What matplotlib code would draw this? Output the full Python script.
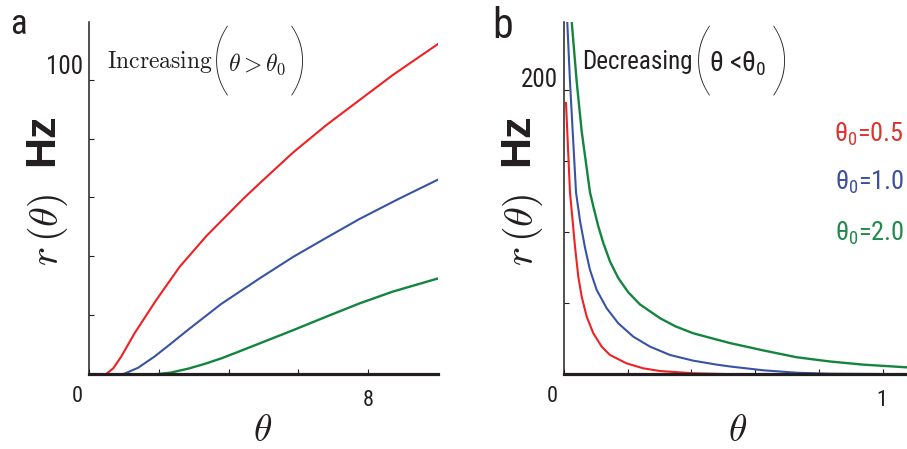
import matplotlib
matplotlib.use('Agg')
import matplotlib.pyplot as plt
import matplotlib.font_manager as fm

W, H = 907, 449

# ---- panel a : increasing tuning, r(theta) for theta > theta0 ----
inc_red_th = [0.5, 0.7, 0.93, 1.31, 1.93, 2.6, 3.36, 4.41, 4.89, 5.85, 6.8, 7.75, 8.7, 10.0]
inc_red_r = [0, 1.9, 5.9, 13.8, 25.1, 36.4, 46.8, 59.4, 64.8, 75.3, 84.6, 93.1, 101.6, 112.2]
inc_blue_th = [1.0, 1.41, 1.88, 2.36, 2.84, 3.79, 4.89, 5.85, 6.8, 7.75, 8.85, 10.0]
inc_blue_r = [0, 2.1, 5.9, 10.4, 15.0, 23.8, 32.5, 39.8, 46.3, 52.7, 59.4, 66.1]
inc_green_th = [2.0, 2.36, 2.84, 3.31, 3.79, 4.27, 4.89, 5.85, 6.8, 7.75, 8.7, 10.0]
inc_green_r = [0, 0.5, 1.8, 3.4, 5.3, 7.5, 10.4, 14.9, 19.5, 24.0, 28.0, 32.5]

# ---- panel b : decreasing tuning, r(theta) for theta < theta0 ----
dec_red_th = [0.0072, 0.0135, 0.0197, 0.0354, 0.0458, 0.0564, 0.0721, 0.0928, 0.119,
              0.145, 0.197, 0.2495, 0.302, 0.407, 0.5]
dec_red_r = [190.9, 159.2, 128, 89.8, 68.6, 54.5, 40.4, 28.7, 19.3, 13.4, 7.5, 4.0, 2.1, 0.5, 0]
dec_blue_th = [0.0111, 0.0197, 0.0282, 0.0386, 0.0511, 0.0668, 0.0824, 0.1034, 0.1348, 0.1712,
               0.2182, 0.2705, 0.3332, 0.406, 0.4796, 0.5213, 0.626, 0.73, 0.835, 0.99]
dec_blue_r = [248.5, 206, 170.9, 128, 108, 89, 73.3, 59.2, 46.3, 35.7,
              26.3, 19.3, 13.4, 9.4, 6.6, 5.3, 2.6, 0.9, 0.2, 0]
dec_green_th = [0.025, 0.0407, 0.0564, 0.0824, 0.0929, 0.1086, 0.1243, 0.1452, 0.1713, 0.2026,
                0.2392, 0.302, 0.35, 0.406, 0.469, 0.521, 0.626, 0.73, 0.835, 0.939, 1.075]
dec_green_r = [248.5, 206, 170.9, 128, 118, 103.9, 92.2, 79.2, 67.5, 57.5,
               49.0, 39.3, 33.6, 28.7, 24.9, 21.8, 16.6, 11.8, 8.8, 6.6, 4.7]

theta0_labels = ['0.5', '1.0', '2.0']
RED, BLUE, GREEN = '#ee2124', '#3953a4', '#14853f'
LEG_COLORS = ['#dc3430', '#3c4fa0', '#1f8a49']
AXC = '#231f20'

# narrow sans if one is installed, otherwise Liberation Sans a bit smaller
names = {f.name for f in fm.fontManager.ttflist}
SANS, SHRINK = 'Liberation Sans', 0.8
for cand in ['Liberation Sans Narrow', 'Roboto Condensed', 'Noto Sans Condensed',
             'Open Sans Condensed']:
    if cand in names:
        SANS, SHRINK = cand, 1.0
        break
plt.rcParams['mathtext.rm'] = SANS
plt.rcParams['mathtext.it'] = SANS + ':italic'

fig = plt.figure(figsize=(W / 100, H / 100), dpi=100)


def ftxt(x, y, s, **kw):
    kw.setdefault('ha', 'center')
    kw.setdefault('va', 'center')
    return fig.text(x / W, 1 - y / H, s, **kw)


def style_axes(ax):
    for side in ('top', 'right'):
        ax.spines[side].set_visible(False)
    ax.spines['left'].set_linewidth(1.1)
    ax.spines['left'].set_color(AXC)
    ax.spines['bottom'].set_linewidth(2.3)
    ax.spines['bottom'].set_color(AXC)
    ax.tick_params(direction='in', length=3.5, width=0.8, color=AXC,
                   labelleft=False, labelbottom=False)


# ──────────────── panel a ────────────────
ax1 = fig.add_axes([88.7 / W, 75 / H, 349.6 / W, 352 / H])
ax1.plot(inc_red_th, inc_red_r, color=RED, lw=1.5)
ax1.plot(inc_blue_th, inc_blue_r, color=BLUE, lw=1.5)
ax1.plot(inc_green_th, inc_green_r, color=GREEN, lw=1.7)
ax1.set_xlim(0, 10)
ax1.set_ylim(0, 119.6)
ax1.set_xticks([0, 2, 4, 6, 8])
ax1.set_yticks([0, 20, 40, 60, 80, 100])
style_axes(ax1)

# ──────────────── panel b ────────────────
ax2 = fig.add_axes([563.7 / W, 75 / H, 343.3 / W, 352 / H])
ax2.plot(dec_red_th, dec_red_r, color=RED, lw=1.5)
ax2.plot(dec_blue_th, dec_blue_r, color=BLUE, lw=1.5)
ax2.plot(dec_green_th, dec_green_r, color=GREEN, lw=1.7)
ax2.set_xlim(0, 1.076)
ax2.set_ylim(0, 248)
ax2.set_xticks([0, 0.2, 0.4, 0.6, 0.8, 1.0])
ax2.set_yticks([0, 50, 100, 150, 200])
style_axes(ax2)

# tick labels
for x, y, s in [(77, 397, '0'), (368, 401, '8'), (552, 396, '0'), (882, 400, '1')]:
    ftxt(x, y, s, fontsize=16 * SHRINK, family=SANS, color=AXC)
ftxt(65, 67, '100', fontsize=18 * SHRINK, family=SANS, color=AXC)
ftxt(539, 80, '200', fontsize=18 * SHRINK, family=SANS, color=AXC)

# panel letters
ftxt(18, 25, 'a', fontsize=25, family=SANS, color=AXC)
ftxt(503, 27, 'b', fontsize=30, family=SANS, color=AXC)

# axis labels
for cx in (263, 738):
    ftxt(cx, 431, r'$\theta$', fontsize=27, math_fontfamily='cm', color=AXC)
for dx in (0, 475):
    ftxt(48 + dx, 230, r'$r\,(\theta)$', fontsize=29, rotation=90,
         math_fontfamily='cm', color=AXC)
    ftxt(42 + dx, 140, 'Hz', fontsize=31, rotation=90, fontweight='bold',
         family='Liberation Sans', color=AXC)

# annotations
PAREN = dict(fontsize=58, family=['Lato', 'DejaVu Sans'], fontweight=200, color=AXC)
ftxt(160, 62, r'$\mathrm{Increasing}$', fontsize=17, math_fontfamily='cm', color=AXC)
ftxt(221, 64, '(', **PAREN)
ftxt(257, 64, r'$\theta > \theta_0$', fontsize=17, math_fontfamily='cm', color=AXC)
ftxt(298, 64, ')', **PAREN)

ftxt(637, 62, 'Decreasing', fontsize=18 * SHRINK, family=SANS, color=AXC)
ftxt(703, 64, '(', **PAREN)
ftxt(738, 64, r'$\mathrm{\theta}$ <$\mathrm{\theta}_0$', fontsize=20 * SHRINK, family=SANS,
     math_fontfamily='custom', color=AXC)
ftxt(780, 64, ')', **PAREN)

# theta0 legend
for lab, col, y in zip(theta0_labels, LEG_COLORS, [134, 182, 233]):
    ftxt(904, y, r'$\mathrm{\theta}_0$=' + lab, fontsize=19 * SHRINK, family=SANS,
         math_fontfamily='custom', color=col, ha='right')

fig.savefig('out.png', dpi=100)
